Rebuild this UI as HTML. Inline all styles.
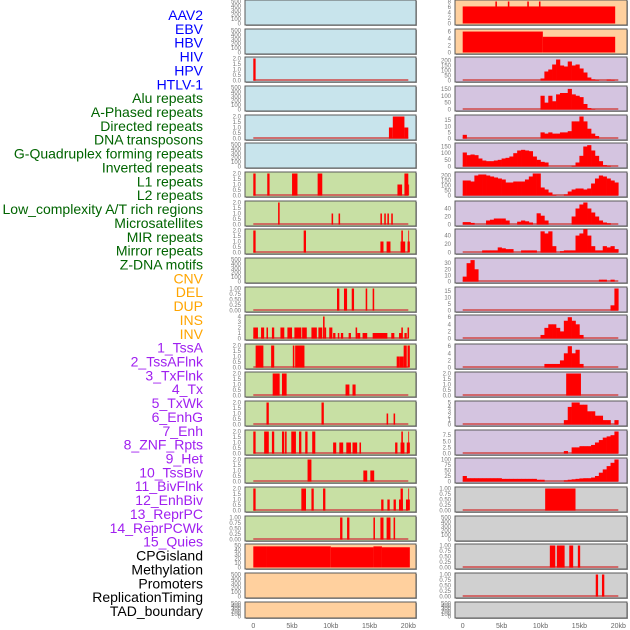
<!DOCTYPE html>
<html><head><meta charset="utf-8">
<style>
html,body{margin:0;padding:0;background:#fff;}
svg{display:block;font-family:"Liberation Sans",sans-serif;}
</style></head>
<body>
<svg id="chart" width="630" height="630" viewBox="0 0 630 630" xmlns="http://www.w3.org/2000/svg"></svg>
<script>
// ---- Row labels ----
const labels = ["AAV2","EBV","HBV","HIV","HPV","HTLV-1","Alu repeats","A-Phased repeats","Directed repeats","DNA transposons","G-Quadruplex forming repeats","Inverted repeats","L1 repeats","L2 repeats","Low_complexity A/T rich regions","Microsatellites","MIR repeats","Mirror repeats","Z-DNA motifs","CNV","DEL","DUP","INS","INV","1_TssA","2_TssAFlnk","3_TxFlnk","4_Tx","5_TxWk","6_EnhG","7_Enh","8_ZNF_Rpts","9_Het","10_TssBiv","11_BivFlnk","12_EnhBiv","13_ReprPC","14_ReprPCWk","15_Quies","CPGisland","Methylation","Promoters","ReplicationTiming","TAD_boundary"];
const labelGroups = ["v","v","v","v","v","v","r","r","r","r","r","r","r","r","r","r","r","r","r","c","c","c","c","c","s","s","s","s","s","s","s","s","s","s","s","s","s","s","s","o","o","o","o","o"];

// ---- X axis ----
const xTicksKb = [0,5,10,15,20];
const xTickLabels = ["0","5kb","10kb","15kb","20kb"];

// ---- Tick sets ----
const tEmpty = ["0","100","200","300","400","500"];
const t2 = ["0.0","0.5","1.0","1.5","2.0"];
const t1 = ["0.00","0.25","0.50","0.75","1.00"];
const t4 = ["0","1","2","3","4"];
const t50 = ["0","10","20","30","40","50"];

// ---- Left column data (bars: [startKb, endKb, value]) ----
const L0 = [], L1 = [], L3 = [], L5 = [], L9 = [], L20 = [], L21 = [];
const L2 = [[0,0.3,2]];
const L4 = [[17.5,18,1],[18,19.5,2],[19.5,20,1]];
const L6 = [[0,0.3,2],[1.8,2.1,2],[5,5.7,2],[8.3,8.9,2],[18.6,19.2,1],[19.5,20,2],[20,20.1,1]];
const L7 = [[3.2,3.4,2],[10.1,10.3,1],[11,11.2,1],[16.4,16.6,1],[16.9,17.1,1],[17.3,17.5,1],[17.8,18,1]];
const L8 = [[0,0.3,2],[6.5,6.8,2],[16.4,16.8,1],[17.2,17.7,1],[19,19.6,1],[19.1,19.3,2],[19.9,20.2,1],[20,20.1,2]];
const L10 = [[10.8,11.1,1],[11.7,12.1,1],[12.7,13,1],[14.5,14.7,1],[15.4,15.6,1]];
const L11 = [[0,0.6,2],[1,1.4,2],[1.7,1.9,2],[2.4,2.7,2],[3.5,4,2],[4.4,5,2],[5.3,6.2,2],[6.3,6.9,2],[7.5,8.2,2],[8.4,8.9,2],[9,9.2,4],[9.2,9.4,2],[9.8,10.2,2],[10.3,10.6,1],[10.9,11.1,1],[11.3,11.6,1],[12.3,12.6,1],[13.2,13.4,2],[13.4,13.8,1],[14.1,14.7,1],[15.4,17.3,1],[17.8,18.2,1],[18.8,19.2,1],[19.1,19.3,2],[19.5,19.8,1],[19.9,20.1,2]];
const L12 = [[0.3,1.3,2],[2.3,2.7,2],[5.1,5.3,2],[5.4,6.6,2],[18.5,18.9,1],[18.9,19.4,1],[19.4,19.8,2],[19.9,20.2,2]];
const L13 = [[2.5,3.4,2],[3.7,4.3,2],[11.9,12.4,1],[12.8,13.2,1]];
const L14 = [[1.7,2,2],[8.8,9.1,2],[17.2,17.4,1],[18.1,18.3,1]];
const L15 = [[0,0.3,2],[1.4,2,2],[2.4,2.7,2],[3.7,4,2],[4.1,4.3,2],[4.9,5.5,2],[5.9,6.2,2],[6.7,7,2],[7.6,8,2],[10.3,10.7,1],[11.1,11.6,1],[12,12.6,1],[12.8,13.4,1],[13.7,13.9,1],[18.3,18.6,1],[19,19.5,1],[19.1,19.3,2],[19.8,20.2,1],[20,20.1,2]];
const L16 = [[7,7.5,2],[14.2,14.7,1],[15.1,15.6,1]];
const L17 = [[0,0.3,2],[6.2,6.8,2],[7.5,7.8,2],[9,9.3,2],[16.5,16.8,1],[17.3,17.6,1],[18.1,18.4,1],[18.8,19.3,1],[19,19.3,2],[19.7,20.2,1],[20,20.1,2]];
const L18 = [[11.2,11.5,1],[12.1,12.4,1],[15.5,15.7,1],[16.4,16.8,1],[17.2,17.7,1],[18.1,18.3,1]];
const L19 = [[0,1.7,48],[1.7,10,48],[10,15.5,46],[15.5,16.6,48],[16.6,20.2,46]];

// ---- Right column data (hist: 40 bins of 0.5kb; bars: [s,e,v]) ----
const R0 = [[0,19.6,6.2],[4.2,4.4,8],[5.8,6,8],[8.3,8.5,8],[9.8,10,8]];
const R1 = [[0,10.3,6],[10.3,19.6,4.5]];
const R2 = [0,0,0,0,0,0,0,0,0,0,0,0,0,0,0,0,0,0,0,0,20,90,110,160,210,150,140,190,150,160,120,80,30,10,5,0,0,8,6,0];
const R3 = [0,0,0,0,0,0,0,0,0,0,0,0,0,0,0,0,0,0,0,0,100,50,100,60,110,120,120,150,110,100,90,40,10,3,0,0,0,0,0,0];
const R4 = [3,0,0,0,0,0,0,0,0,0,0,0,0,0,0,0,0,0,0,0,5,4,5,4,4,5,5,6,14,14,18,14,8,4,2,0,0,0,0,0];
const R5 = [105,85,90,85,60,45,40,40,45,50,60,65,75,100,120,125,120,115,75,50,35,30,0,0,0,0,0,0,5,30,80,150,160,120,80,40,10,5,0,0];
const R6 = [150,150,140,200,210,210,200,190,180,170,160,130,130,140,140,140,160,190,220,220,80,60,30,5,0,0,10,40,60,70,70,60,70,120,170,200,190,170,150,130];
const R7 = [6,6,4,0,0,0,10,12,15,15,15,10,0,0,7,10,8,5,0,28,22,10,0,0,0,0,0,0,20,40,50,55,40,30,20,10,5,3,0,0];
const R8 = [0,0,0,0,0,5,5,5,5,12,10,8,8,0,0,5,5,5,5,0,50,45,50,15,0,3,5,5,5,40,45,55,40,15,5,5,15,12,15,8];
const R9 = [8,30,35,20,0,0,0,0,0,0,0,0,0,0,0,0,0,0,0,0,0,0,0,0,0,0,0,0,0,0,0,0,0,0,0,3,3,0,3,0];
const R10 = [0,0,0,0,0,0,0,0,0,0,0,0,0,0,0,0,0,0,0,0,0,0,0,0,0,0,0,0,0,0,0,0,0,0,0,0,0,0,4,17];
const R11 = [0,0,0,0,0,0,0,0,0,0,0,0,0,0,0,0,0,0,0,0,1,3,4,4,3,2,5,6,5,4,1,0,0,0,0,0,0,0,0,0];
const R12 = [0,0,0,0,0,0,0,0,0,0,0,0,0,0,0,0,0,0,0,0,0,1,1,1,1,2,4,6,4,5,1,0,0,0,0,0,0,0,0,0];
const R13 = [[13.3,15.2,2]];
const R14 = [0,0,0,0,0,0,0,0,0,0,0,0,0,0,0,0,0,0,0,0,0,0,0,0,0,0,1,4,5,5,4.5,4.5,3,3,2,2,1,1,0,1];
const R15 = [0,0,0,0,0,0,0,0,0,0,0,0,0,0,0,0,0,0,0,0,0,0,0,0,0,0,1,0,2.5,2.5,3,3,3,3.5,4.5,5.5,6.5,7,7.5,9];
const R16 = [25,15,15,15,15,15,15,15,15,15,12,12,12,12,12,12,12,12,12,8,8,0,0,0,0,0,5,8,10,12,14,15,15,18,25,40,55,70,85,100];
const R17 = [[10.6,14.5,1]];
const R18 = [];
const R19 = [[11.2,11.9,1],[12.1,13.1,1],[13.7,14.2,1],[14.8,15.1,1]];
const R20 = [[17.1,17.4,1],[17.9,18.2,1]];
const R21 = [];

// Panel specs: [data, kind, ticks, ymax, bg, baseline]
const leftPanels = [
 [L0,"b",tEmpty,500,"blue",0],[L1,"b",tEmpty,500,"blue",0],[L2,"b",t2,2,"blue",1],[L3,"b",tEmpty,500,"blue",0],[L4,"b",t2,2,"blue",1],[L5,"b",tEmpty,500,"blue",0],
 [L6,"b",t2,2,"green",1],[L7,"b",t2,2,"green",1],[L8,"b",t2,2,"green",1],[L9,"b",tEmpty,500,"green",0],[L10,"b",t1,1,"green",1],[L11,"b",t4,4,"green",1],
 [L12,"b",t2,2,"green",1],[L13,"b",t2,2,"green",1],[L14,"b",t2,2,"green",1],[L15,"b",t2,2,"green",1],[L16,"b",t2,2,"green",1],[L17,"b",t2,2,"green",1],[L18,"b",t1,1,"green",1],
 [L19,"b",t50,50,"orange",0],[L20,"b",tEmpty,500,"orange",0],[L21,"b",tEmpty,500,"orange",0]
];
const rightPanels = [
 [R0,"b",["0","2","4","6","8"],8,"orange",0],[R1,"b",["0","2","4","6"],6.3,"orange",0],
 [R2,"h",["0","50","100","150","200"],220,"purple",1],[R3,"h",["0","50","100","150"],160,"purple",1],[R4,"h",["0","5","10","15"],18,"purple",1],
 [R5,"h",["0","50","100","150"],165,"purple",1],[R6,"h",["0","50","100","150","200"],220,"purple",1],[R7,"h",["0","20","40"],55,"purple",1],
 [R8,"h",["0","20","40"],52,"purple",1],[R9,"h",["0","10","20","30"],36,"purple",1],[R10,"h",["0","5","10","15"],17,"purple",1],
 [R11,"h",["0","2","4","6"],6.2,"purple",1],[R12,"h",["0","2","4","6"],6.2,"purple",1],[R13,"b",t2,2,"purple",1],
 [R14,"h",["0","1","2","3","4","5"],5,"purple",1],[R15,"h",["0.0","2.5","5.0","7.5"],9,"purple",1],[R16,"h",["0","25","50","75","100"],100,"purple",1],
 [R17,"b",t1,1,"grey",1],[R18,"b",tEmpty,500,"grey",0],[R19,"b",t1,1,"grey",1],[R20,"b",t1,1,"grey",1],[R21,"b",tEmpty,500,"grey",0]
];

const bgColors = {blue:"#c8e4ec",green:"#c8e0a4",orange:"#ffd09e",purple:"#d4c4e0",grey:"#d0d0d0"};
const labelColors = {v:"#0000ff",r:"#006400",c:"#ffa500",s:"#a020f0",o:"#000000"};
const NS = "http://www.w3.org/2000/svg";
const svg = document.getElementById("chart");
function mk(tag, attrs, parent){const e=document.createElementNS(NS,tag);for(const k in attrs)e.setAttribute(k,attrs[k]);(parent||svg).appendChild(e);return e;}

// labels
labels.forEach((t,i)=>{
  const e = mk("text",{x:203,y:15+i*13.86+5,"text-anchor":"end","font-size":"14",fill:labelColors[labelGroups[i]]});
  e.textContent = t;
  
  
});

const cols = [
  {panels:leftPanels, x0:245, x1:416, kb0:253.3, pxkb:7.75, tickX:241, name:"left"},
  {panels:rightPanels, x0:455, x1:627, kb0:462.7, pxkb:7.78, tickX:451, name:"right"}
];

cols.forEach(col=>{
  const xs = kb => col.kb0 + kb*col.pxkb;
  col.panels.forEach((p,i)=>{
    const [data,kind,ticks,ymax,bg,base] = p;
    const top = Math.round(i*28.65);
    const h = (i===21)?16:25;
    const yTop = top+1.5, yBot = top+h-1.5;
    const ys = v => yBot - (v/ymax)*(yBot-yTop);
    const g = mk("g",{});
    
    
    mk("rect",{x:col.x0+1,y:top+1,width:col.x1-col.x0,height:h,fill:"#a0a0a0"},g);
    const bgRect = mk("rect",{x:col.x0,y:top,width:col.x1-col.x0,height:h,fill:bgColors[bg],stroke:"#5a5a5a","stroke-width":1},g);
    
    
    if(base){
      const bl = mk("rect",{x:xs(0),y:yBot-1.5,width:xs(20)-xs(0),height:2,fill:"#d05050",opacity:0.8},g);
      
      
    }
    if(kind==="b"){
      data.forEach(d=>{
        const r = mk("rect",{x:xs(d[0]),y:ys(d[2]),width:Math.max(0.8,xs(d[1])-xs(d[0])),height:yBot-ys(d[2]),fill:"#ff0000"},g);
        
        
      });
    } else {
      data.forEach((v,b)=>{
        if(v<=0) return;
        const r = mk("rect",{x:xs(b*0.5),y:ys(v),width:xs(0.5)-xs(0)+0.3,height:yBot-ys(v),fill:"#ff0000"},g);
        
        
      });
    }
    // y ticks
    ticks.forEach((t,k)=>{
      const v = ymax===500 ? k*100 : parseFloat(t);
      const e = mk("text",{x:col.tickX,y:ys(v)+2,"text-anchor":"end","font-size":"6",fill:"#777"},g);
      e.textContent = t;
      
      
    });
  });
  // x axis labels
  xTicksKb.forEach((kb,k)=>{
    const e = mk("text",{x:xs(kb),y:628,"text-anchor":"middle","font-size":"7",fill:"#666"});
    e.textContent = xTickLabels[k];
    
    
  });
});
</script>
</body></html>
